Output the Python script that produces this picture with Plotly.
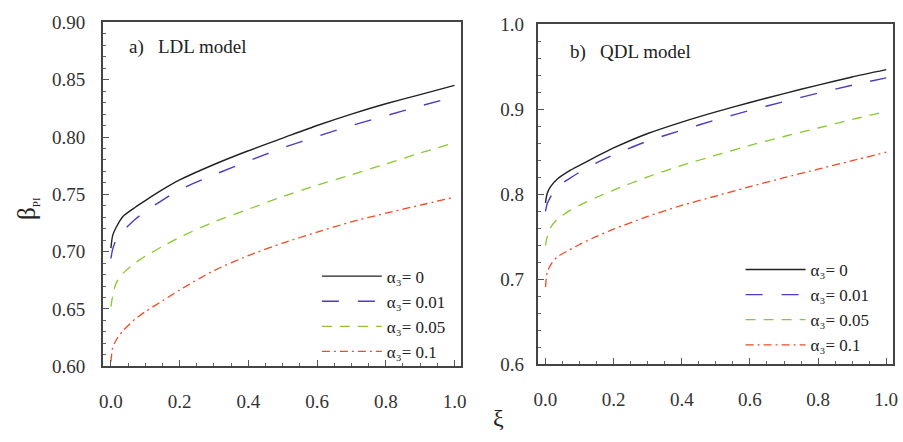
import plotly.graph_objects as go

# ---------------- data ----------------
xi = [0, 0.005, 0.015, 0.035, 0.07, 0.1, 0.15, 0.2, 0.3, 0.4, 0.5, 0.6, 0.7, 0.8, 0.9, 1.0]

series_names = ["α₃= 0", "α₃= 0.01", "α₃= 0.05", "α₃= 0.1"]

# a) LDL model
ldl_a0 = [0.703, 0.714, 0.721, 0.7307, 0.7385, 0.7445, 0.754, 0.7625, 0.776, 0.788, 0.799, 0.810, 0.820, 0.829, 0.837, 0.845]
ldl_a001 = [0.694, 0.702, 0.710, 0.718, 0.728, 0.735, 0.745, 0.754, 0.767, 0.779, 0.7905, 0.8005, 0.810, 0.8185, 0.827, 0.835]
ldl_a005 = [0.652, 0.661, 0.6725, 0.681, 0.690, 0.696, 0.7045, 0.7125, 0.726, 0.737, 0.748, 0.758, 0.767, 0.7765, 0.786, 0.795]
ldl_a01 = [0.604, 0.616, 0.6227, 0.631, 0.641, 0.6476, 0.657, 0.6665, 0.6835, 0.6965, 0.7075, 0.717, 0.726, 0.7335, 0.7405, 0.7475]

# b) QDL model
qdl_a0 = [0.790, 0.801, 0.809, 0.818, 0.8275, 0.834, 0.8445, 0.8545, 0.8715, 0.885, 0.897, 0.908, 0.9185, 0.9285, 0.938, 0.9466]
qdl_a001 = [0.780, 0.789, 0.797, 0.809, 0.8185, 0.826, 0.837, 0.8465, 0.8627, 0.8754, 0.8875, 0.8987, 0.909, 0.919, 0.9283, 0.937]
qdl_a005 = [0.740, 0.750, 0.761, 0.771, 0.7805, 0.787, 0.7965, 0.805, 0.8205, 0.834, 0.846, 0.8575, 0.868, 0.878, 0.888, 0.8973]
qdl_a01 = [0.691, 0.708, 0.717, 0.7265, 0.7345, 0.741, 0.7505, 0.759, 0.774, 0.787, 0.798, 0.809, 0.8195, 0.8295, 0.8395, 0.8495]

ldl = [ldl_a0, ldl_a001, ldl_a005, ldl_a01]
qdl = [qdl_a0, qdl_a001, qdl_a005, qdl_a01]

# ---------------- styles ----------------
colors = ["#222222", "#5436c0", "#88c830", "#ee4b22"]
dashes = ["solid", "17px,19px", "10px,8px", "8px,4px,2px,4px"]
widths = [1.4, 1.4, 1.3, 1.3]
FONT = "Liberation Serif"

fig = go.Figure()

for i in range(4):
    fig.add_trace(go.Scatter(
        x=xi, y=ldl[i], mode="lines", name=series_names[i],
        line=dict(color=colors[i], dash=dashes[i], width=widths[i], shape="spline", smoothing=0.6),
        xaxis="x", yaxis="y", legend="legend", hoverinfo="skip"))
for i in range(4):
    fig.add_trace(go.Scatter(
        x=xi, y=qdl[i], mode="lines", name=series_names[i],
        line=dict(color=colors[i], dash=dashes[i], width=widths[i], shape="spline", smoothing=0.6),
        xaxis="x2", yaxis="y2", legend="legend2", hoverinfo="skip"))

W, H = 903, 442

def px_x(p):
    return p / W

def px_y(p):
    return 1 - p / H

axis_common = dict(
    showline=True, linecolor="#444444", linewidth=1.8, mirror=True,
    showgrid=False, zeroline=False,
    ticks="inside", ticklen=6, tickwidth=1, tickcolor="#555555",
    tickfont=dict(family=FONT, size=19, color="#333333"),
)

xaxis_common = dict(axis_common, range=[-0.023, 1.02], tick0=0, dtick=0.2, tickformat=".1f",
                    ticklabelstandoff=17,
                    minor=dict(dtick=0.05, ticks="inside", ticklen=3, tickcolor="#666666"))

legend_common = dict(xanchor="left", yanchor="top", bgcolor="rgba(0,0,0,0)", itemwidth=60,
                     font=dict(family=FONT, size=17, color="#222222"), tracegroupgap=0)

fig.update_layout(
    width=W, height=H,
    font=dict(family=FONT, size=17, color="#222222"),
    margin=dict(l=0, r=0, t=0, b=0),
    paper_bgcolor="white", plot_bgcolor="white",
    xaxis=dict(xaxis_common, domain=[px_x(100), px_x(462)], anchor="y"),
    yaxis=dict(axis_common, domain=[px_y(374), px_y(13)], anchor="x",
               range=[0.60, 0.90], tick0=0.6, dtick=0.05, tickformat=".2f",
               ticklabelstandoff=12,
               minor=dict(dtick=0.01, ticks="inside", ticklen=3, tickcolor="#666666")),
    xaxis2=dict(xaxis_common, domain=[px_x(539), px_x(898)], anchor="y2"),
    yaxis2=dict(axis_common, domain=[px_y(372), px_y(15)], anchor="x2",
                range=[0.60, 1.0], tick0=0.6, dtick=0.1, tickformat=".1f",
                ticklabelstandoff=8,
                minor=dict(dtick=0.02, ticks="inside", ticklen=3, tickcolor="#666666")),
    legend=dict(legend_common, x=px_x(316), y=px_y(261)),
    legend2=dict(legend_common, x=px_x(744), y=px_y(254)),
    showlegend=True,
    annotations=[
        dict(text="a)   LDL model", x=px_x(124), y=px_y(39), xref="paper", yref="paper",
             xanchor="left", yanchor="middle", showarrow=False,
             font=dict(family=FONT, size=19, color="#222222")),
        dict(text="b)   QDL model", x=px_x(570), y=px_y(44), xref="paper", yref="paper",
             xanchor="left", yanchor="middle", showarrow=False,
             font=dict(family=FONT, size=19, color="#222222")),
        dict(text="ξ", x=px_x(499), y=px_y(428), xref="paper", yref="paper",
             xanchor="center", yanchor="middle", showarrow=False,
             font=dict(family=FONT, size=24, color="#222222")),
        dict(text="β<sub><span style='font-size:11px'>PI</span></sub>", x=px_x(23), y=px_y(208),
             xref="paper", yref="paper",
             xanchor="center", yanchor="middle", showarrow=False, textangle=-90,
             font=dict(family=FONT, size=25, color="#222222")),
    ],
)

fig.write_html("out.html")
